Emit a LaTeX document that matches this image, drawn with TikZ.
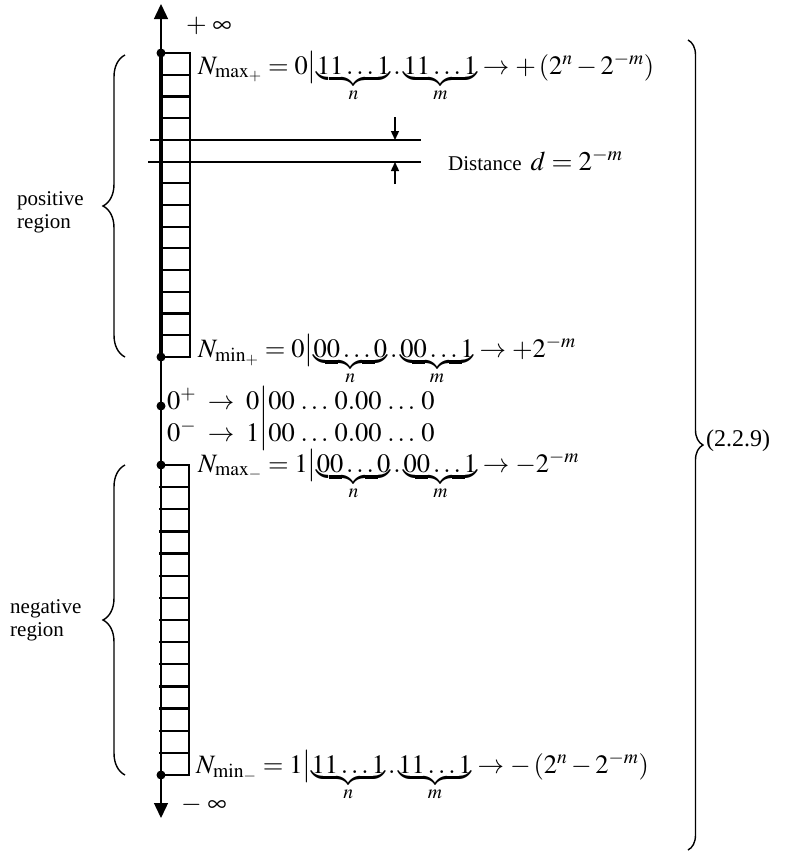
\documentclass[tikz,border=0pt]{standalone}
\usepackage{amsmath}
\usepackage{mathptmx}
\usepackage{fontspec}
\setmainfont{Liberation Serif}
\usetikzlibrary{arrows.meta, positioning, decorations.pathreplacing}

\begin{document}
\begin{tikzpicture}[x=1pt,y=-1pt,
  axisline/.style={line width=1.4pt},
  cell/.style={line width=2.2pt},
  gapline/.style={line width=1.6pt},
  dotmark/.style={fill=black},
  eqn/.style={anchor=base west,inner sep=0pt,font=\fontsize{26.5}{30}\selectfont},
  regionlbl/.style={align=left,anchor=north west,inner sep=0pt,font=\fontsize{21}{23.5}\selectfont},
  curly/.style={decorate,decoration={brace,amplitude=#1},line width=1.4pt},
  tip/.style={-{Triangle[length=9pt,width=8pt]},line width=1.4pt}]
\useasboundingbox (0,0) rectangle (796,852);

% the number line
\coordinate (top) at (161,4);
\coordinate (bot) at (161,818);
\draw[axisline,{Triangle[length=15pt,width=14pt]}-{Triangle[length=15pt,width=14pt]}] (bot) -- (top);
\node[eqn] (pinf) at (186,32) {${+}\mskip4mu\infty$};
\node[eqn] (minf) at (181,811) {${-}\mskip4mu\infty$};

% positive region
\coordinate (pt) at (161,53);
\coordinate (pb) at (161,357);
\draw[line width=3.4pt] (pt) -- (pb);
\draw[cell] (pt) -- ++(29,0) -- ++(0,304) -- (pb);
\foreach \k in {1,2,3,6,7,...,13}
  \draw[cell] (159,{53+\k*21.71}) -- ++(31,0);
\coordinate (ga) at (150,140);
\coordinate (gb) at (148,162);
\draw[gapline] (ga) -- (421,140);
\draw[gapline] (gb) -- (421,162);
\coordinate (da) at (395,117);
\coordinate (db) at (395,184);
\draw[tip] (da) -- (395,140);
\draw[tip] (db) -- (395,162);
\node[anchor=base west,inner sep=0pt] (dist) at (448,170)
  {{\fontsize{21}{24}\selectfont Distance\hspace{9pt}}{\fontsize{27}{30}\selectfont$d = 2^{-m}$}};

% negative region
\coordinate (nt) at (161,465);
\coordinate (nb) at (161,775);
\draw[line width=2.6pt] (nt) -- (nb);
\draw[cell] (nt) -- ++(28,0) -- ++(0,310) -- (nb);
\foreach \k in {1,...,13}
  \draw[cell] (159,{465+\k*22.14}) -- ++(30,0);

% points
\foreach \p in {pt,pb,nt,nb}
  \fill[dotmark] (\p) circle (4.5);
\coordinate (zero) at (161,406);
\fill[dotmark] (zero) circle (4.5);

% codes
\node[eqn] (nmaxp) at (198,74)
  {$N_{\mathrm{max}_{+}} = 0\bigl|\underbrace{11\ldots1}_{n}.\underbrace{11\ldots1}_{m} \to +\left(2^{n}-2^{-m}\right)$};
\node[eqn] (nminp) at (198,357)
  {$N_{\mathrm{min}_{+}} = 0\bigl|\underbrace{00\ldots0}_{n}.\underbrace{00\ldots1}_{m} \to +2^{-m}$};
\node[eqn] (zp) at (167,409)
  {$0^{+}\;\to\; 0\bigl|00\,\ldots\,0.00\,\ldots\,0$};
\node[eqn] (zm) at (167,441)
  {$0^{-}\;\to\; 1\bigl|00\,\ldots\,0.00\,\ldots\,0$};
\node[eqn] (nmaxm) at (198,472)
  {$N_{\mathrm{max}_{-}} = 1\bigl|\underbrace{00\ldots0}_{n}.\underbrace{00\ldots1}_{m} \to -2^{-m}$};
\node[eqn] (nminm) at (196,773)
  {$N_{\mathrm{min}_{-}} = 1\bigl|\underbrace{11\ldots1}_{n}.\underbrace{11\ldots1}_{m} \to -\left(2^{n}-2^{-m}\right)$};

% regions
\draw[curly=22pt] (125,357) -- (125,55);
\node[regionlbl] (pos) at (17,191) {positive\\region};
\draw[curly=22pt] (125,775) -- (125,465);
\node[regionlbl] (neg) at (10,599) {negative\\region};

% whole set
\draw[curly=15pt] (688,40) -- (688,850);
\node[anchor=west,inner sep=0pt,font=\fontsize{24}{28}\selectfont] (eqno) at (706,441) {(2.2.9)};
\end{tikzpicture}
\end{document}
